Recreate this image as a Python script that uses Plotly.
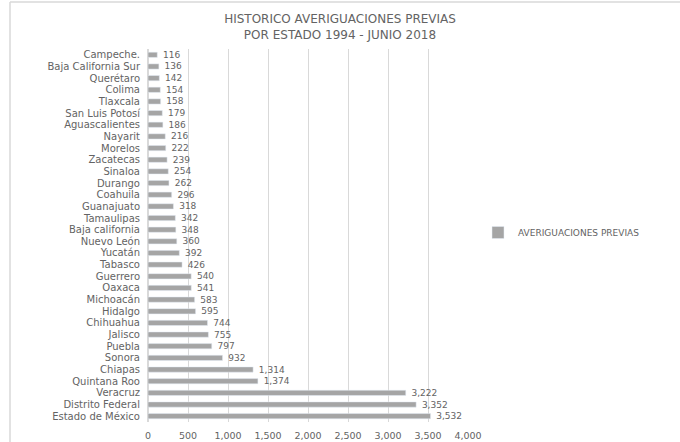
import plotly.graph_objects as go

# Averiguaciones previas por estado, 1994 - junio 2018
estados = [
    "Campeche.", "Baja California Sur", "Querétaro", "Colima", "Tlaxcala",
    "San Luis Potosí", "Aguascalientes", "Nayarit", "Morelos", "Zacatecas",
    "Sinaloa", "Durango", "Coahuila", "Guanajuato", "Tamaulipas",
    "Baja california", "Nuevo León", "Yucatán", "Tabasco", "Guerrero",
    "Oaxaca", "Michoacán", "Hidalgo", "Chihuahua", "Jalisco",
    "Puebla", "Sonora", "Chiapas", "Quintana Roo", "Veracruz",
    "Distrito Federal", "Estado de México",
]
averiguaciones = [
    116, 136, 142, 154, 158,
    179, 186, 216, 222, 239,
    254, 262, 296, 318, 342,
    348, 360, 392, 426, 540,
    541, 583, 595, 744, 755,
    797, 932, 1314, 1374, 3222,
    3352, 3532,
]
x_ticks = [0, 500, 1000, 1500, 2000, 2500, 3000, 3500, 4000]

TEXT = "#636363"
GRID = "#D9D9D9"
BAR = "#A5A5A5"
FONT = "DejaVu Sans"

fig = go.Figure(
    go.Bar(
        x=averiguaciones,
        y=estados,
        orientation="h",
        name="AVERIGUACIONES PREVIAS",
        marker_color=BAR,
        texttemplate="  %{x:,}",
        textposition="outside",
        constraintext="none",
        cliponaxis=False,
        textfont=dict(family=FONT, size=9, color=TEXT),
    )
)

W, H = 680, 442
L, R, T, B = 148, 212, 49, 20
pw, ph = W - L - R, H - T - B

fig.update_layout(
    width=W,
    height=H,
    margin=dict(l=L, r=R, t=T, b=B),
    paper_bgcolor="white",
    plot_bgcolor="white",
    bargap=0.55,
    font=dict(family=FONT, color=TEXT, size=9.5),
    title=dict(
        text="HISTORICO AVERIGUACIONES PREVIAS<br>POR ESTADO 1994 - JUNIO 2018",
        x=340 / W,
        xanchor="center",
        y=1 - 23 / H,
        yanchor="middle",
        font=dict(family=FONT, size=12, color=TEXT),
    ),
    showlegend=True,
    legend=dict(
        x=(478 - L) / pw,
        xanchor="left",
        y=0.5 + 3 / ph,
        yanchor="middle",
        font=dict(family=FONT, size=9, color=TEXT),
        bgcolor="rgba(0,0,0,0)",
    ),
    xaxis=dict(
        range=[0, 4000],
        tickvals=x_ticks,
        tickformat=",",
        automargin=False,
        showgrid=True,
        gridcolor=GRID,
        zeroline=True,
        zerolinecolor=GRID,
        showline=False,
        ticks="outside",
        ticklen=5,
        tickcolor="rgba(0,0,0,0)",
        tickfont=dict(family=FONT, size=9.5, color=TEXT),
    ),
    yaxis=dict(
        autorange="reversed",
        tickmode="array",
        tickvals=estados,
        automargin=False,
        showgrid=False,
        showline=False,
        ticks="outside",
        ticklen=5,
        tickcolor="rgba(0,0,0,0)",
        tickfont=dict(family=FONT, size=10, color=TEXT),
    ),
)

# chart-area frame (top and left edges)
fx = (10 - L) / pw
fy = 1 + (T - 2) / ph
fig.add_shape(type="line", xref="paper", yref="paper",
              x0=fx, y0=fy, x1=(W + 10 - L) / pw, y1=fy,
              line=dict(color=GRID, width=1.5))
fig.add_shape(type="line", xref="paper", yref="paper",
              x0=fx, y0=fy, x1=fx, y1=-(B + 10) / ph,
              line=dict(color=GRID, width=1.5))

fig.write_html("out.html")
